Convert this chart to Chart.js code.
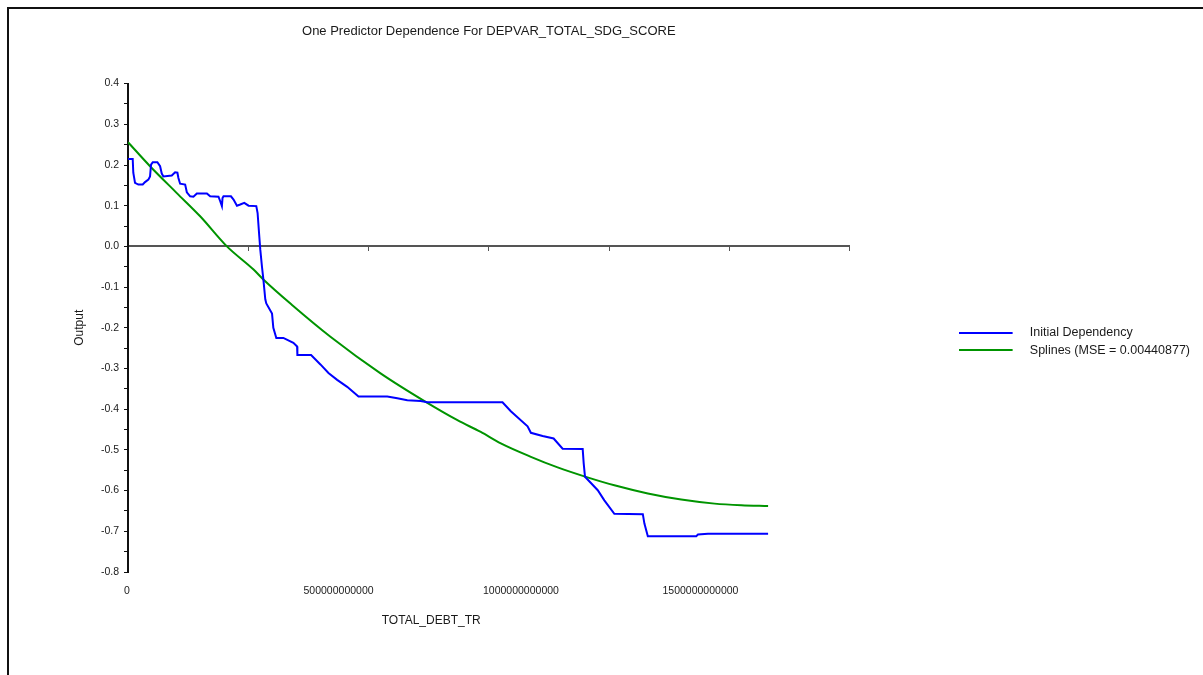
<!DOCTYPE html>
<html>
<head>
<meta charset="utf-8">
<script src="https://cdn.jsdelivr.net/npm/chart.js@4"></script>
<style>
  html, body { margin: 0; padding: 0; background: #fff; }
  #wrap { position: relative; width: 1203px; height: 675px; }
  #wrap canvas { position: absolute; left: 0; top: 0; }
  #frame { position: absolute; left: 7px; top: 7px; right: 0; bottom: 0;
           border-left: 2px solid #111; border-top: 2px solid #111; pointer-events: none; }
</style>
</head>
<body>
<div id="wrap">
  <canvas id="chart" width="1203" height="675"></canvas>
  <div id="frame"></div>
</div>
<script>
// x values are in billions (TOTAL_DEBT_TR / 1e9)
const blueX = [0, 9.8, 11, 14.6, 21.5, 30.6, 35.4, 42.3, 45.8, 47.9, 51.5, 61, 66.7, 70.2, 73.5,
  91, 97.9, 102.7, 104.8, 108.3, 118.8, 122.3, 129.2, 136, 143.1, 164, 170.8, 188.1, 191.7,
  195.2, 196.5, 198.5, 214, 219.4, 226.5, 233.3, 241.7, 250.6, 266.7, 269.4, 272.9, 275,
  278.5, 281.3, 285.4, 287.5, 299.4, 302.1, 308.3, 322.9, 343.8, 351.5, 352.1, 380.6, 400,
  416.7, 434.8, 455.6, 479.2, 539, 559.8, 580.6, 608.3, 622.3, 778.5, 795.8, 830.6, 837.5,
  861.9, 884.8, 903.5, 945.2, 947.3, 950, 976.5, 990.2, 1011, 1070.2, 1073.5, 1080.6,
  1181.3, 1184.8, 1205.6, 1330.6];
const blueY = [0.215, 0.215, 0.181, 0.156, 0.152, 0.152, 0.158, 0.164, 0.172, 0.201, 0.207, 0.207, 0.197, 0.179, 0.172,
  0.174, 0.182, 0.181, 0.168, 0.154, 0.152, 0.133, 0.123, 0.122, 0.130, 0.130, 0.123, 0.122, 0.111,
  0.099, 0.119, 0.123, 0.123, 0.115, 0.100, 0.103, 0.107, 0.100, 0.099, 0.082, 0.025, -0.008,
  -0.05, -0.08, -0.13, -0.14, -0.165, -0.2, -0.225, -0.225, -0.237, -0.246, -0.267, -0.267, -0.29,
  -0.311, -0.328, -0.345, -0.369, -0.369, -0.373, -0.378, -0.380, -0.383, -0.383, -0.405, -0.442, -0.458,
  -0.466, -0.472, -0.497, -0.498, -0.533, -0.566, -0.599, -0.624, -0.657, -0.658, -0.681, -0.712,
  -0.712, -0.708, -0.706, -0.706];

const greenX = [0, 45.8, 101.5, 150, 205.6, 261, 281.9, 341, 420.8, 525, 618.8, 684.8, 733.3,
  775, 837.5, 893.1, 948.5, 1011, 1080.6, 1150, 1219.4, 1275, 1330.6];
const greenY = [0.256, 0.197, 0.131, 0.074, 0.0, -0.057, -0.082, -0.144, -0.222, -0.312, -0.382, -0.427, -0.456,
  -0.484, -0.517, -0.543, -0.565, -0.587, -0.607, -0.622, -0.632, -0.636, -0.638];

const seriesNames = ["Initial Dependency", "Splines (MSE = 0.00440877)"];
const yTicks = [-0.8, -0.75, -0.7, -0.65, -0.6, -0.55, -0.5, -0.45, -0.4, -0.35, -0.3, -0.25, -0.2,
  -0.15, -0.1, -0.05, 0, 0.05, 0.1, 0.15, 0.2, 0.25, 0.3, 0.35, 0.4];
const xMarkTicks = [0, 2.5e11, 5e11, 7.5e11, 1e12, 1.25e12, 1.5e12];
const xLabelTicks = [0, 5e11, 1e12, 1.5e12];

const FONT = "'Liberation Sans', Arial, sans-serif";
Chart.defaults.font.family = FONT;
Chart.defaults.color = "#1a1a1a";

const toPoints = (xs, ys) => xs.map((x, i) => ({ x: x * 1e9, y: ys[i] }));

// legend swatch: short line followed by a gap before the text
function swatch(color) {
  const c = document.createElement("canvas");
  c.width = 65; c.height = 2;
  const g = c.getContext("2d");
  g.fillStyle = color;
  g.fillRect(0, 0, 54, 2);
  return c;
}

const LABEL_SHIFT = -4;
const TICK_FONT = { size: 10.5 };

// x-axis title is centred under the tick label span (not the axis)
const xTitlePlugin = {
  id: "xTitle",
  afterDraw(chart) {
    const s = chart.scales.xl;
    const ctx = chart.ctx;
    ctx.save();
    ctx.font = `${TICK_FONT.size}px ${FONT}`;
    const last = xLabelTicks[xLabelTicks.length - 1];
    const l = s.getPixelForValue(xLabelTicks[0]) + LABEL_SHIFT;
    const r = s.getPixelForValue(last) + LABEL_SHIFT + ctx.measureText(String(last)).width;
    ctx.font = `12px ${FONT}`;
    ctx.fillStyle = "#1a1a1a";
    ctx.textAlign = "center";
    ctx.textBaseline = "middle";
    ctx.fillText("TOTAL_DEBT_TR", (l + r) / 2, s.top + 49);
    ctx.restore();
  }
};

new Chart(document.getElementById("chart"), {
  type: "line",
  data: {
    datasets: [
      {
        label: seriesNames[0],
        data: toPoints(blueX, blueY),
        borderColor: "#0000ff",
        backgroundColor: "#0000ff",
        borderWidth: 2,
        tension: 0,
        pointStyle: swatch("#0000ff")
      },
      {
        label: seriesNames[1],
        data: toPoints(greenX, greenY),
        borderColor: "#009400",
        backgroundColor: "#009400",
        borderWidth: 2,
        cubicInterpolationMode: "monotone",
        pointStyle: swatch("#009400")
      }
    ]
  },
  options: {
    responsive: false,
    animation: false,
    elements: { point: { radius: 0, hoverRadius: 0 } },
    layout: { padding: { top: 8, right: 3 } },
    plugins: {
      title: {
        display: true,
        text: "One Predictor Dependence For DEPVAR_TOTAL_SDG_SCORE",
        fullSize: false,
        color: "#1a1a1a",
        font: { size: 13, weight: "normal" },
        padding: { top: 16, bottom: 44 }
      },
      legend: {
        position: "right",
        align: "center",
        labels: {
          usePointStyle: true,
          pointStyleWidth: 65,
          padding: 5,
          color: "#1a1a1a",
          font: { size: 12.5 }
        }
      },
      tooltip: { enabled: false }
    },
    scales: {
      x: {
        type: "linear",
        position: { y: 0 },
        min: 0,
        max: 1.5e12,
        afterBuildTicks(s) { s.ticks = xMarkTicks.map(v => ({ value: v })); },
        ticks: { display: false },
        grid: { drawOnChartArea: false, tickLength: 4, color: "#555" },
        border: { color: "#555", width: 2 }
      },
      xl: {
        type: "linear",
        axis: "x",
        position: "bottom",
        min: 0,
        max: 2.01e12,
        afterBuildTicks(s) { s.ticks = xLabelTicks.map(v => ({ value: v })); },
        afterFit(s) { s.height = 103; },
        grid: { display: false, drawTicks: false },
        border: { display: false },
        ticks: {
          align: "start",
          labelOffset: LABEL_SHIFT,
          padding: 13,
          autoSkip: false,
          maxRotation: 0,
          font: TICK_FONT,
          callback: v => String(v)
        }
      },
      y: {
        type: "linear",
        min: -0.8,
        max: 0.4,
        afterBuildTicks(s) { s.ticks = yTicks.map(v => ({ value: v })); },
        afterFit(s) { s.width = 128; },
        ticks: {
          autoSkip: false,
          padding: 5,
          font: TICK_FONT,
          callback: (v, i) => (i % 2 === 0 ? v.toFixed(1) : "")
        },
        grid: { drawOnChartArea: false, tickLength: 4, color: "#111" },
        border: { color: "#111", width: 2 },
        title: {
          display: true,
          text: "Output",
          color: "#1a1a1a",
          font: { size: 12 },
          padding: { top: 72, bottom: 0 }
        }
      },
      // hidden spacer between the plot and the legend
      yr: {
        type: "linear",
        axis: "y",
        position: "right",
        display: false,
        afterFit(s) { s.width = 104; }
      }
    }
  },
  plugins: [xTitlePlugin]
});
</script>
</body>
</html>
